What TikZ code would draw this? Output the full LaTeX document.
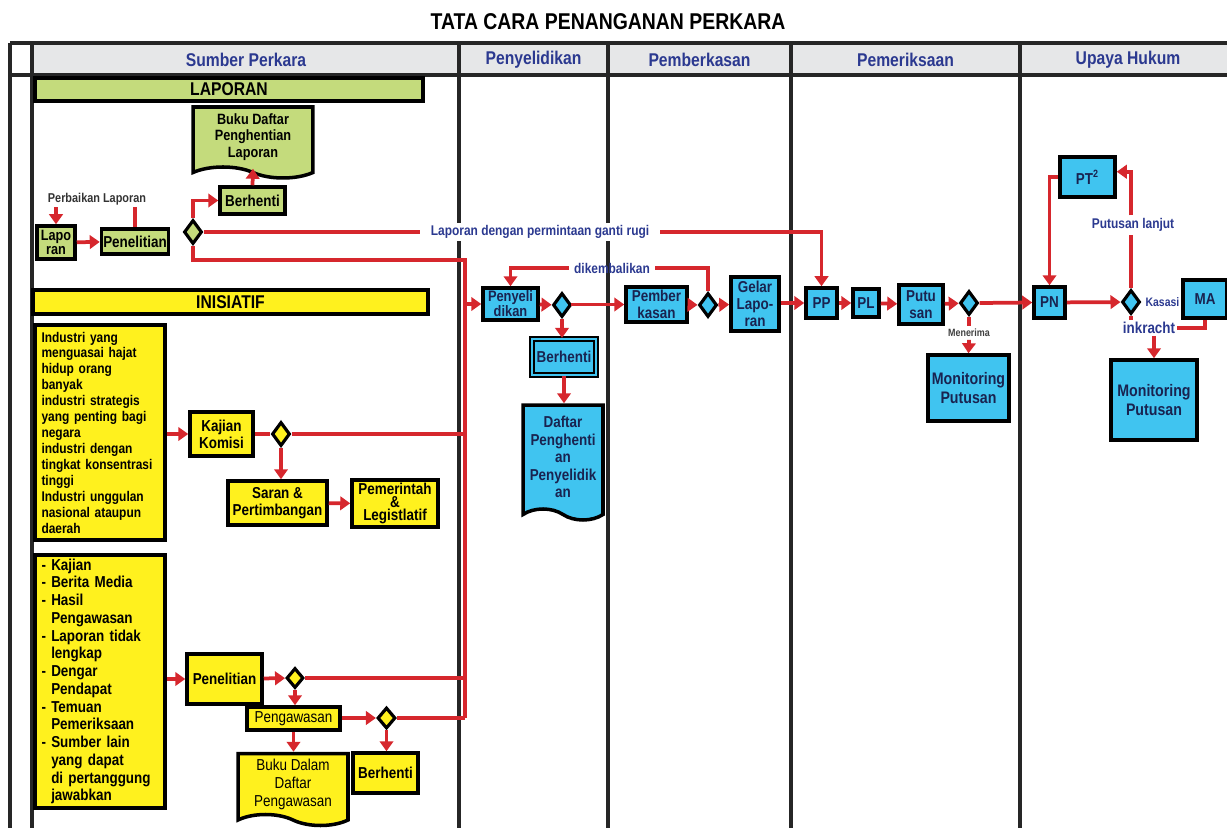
\documentclass[tikz,border=0pt]{standalone}
\usepackage{fontspec}
\setmainfont{Liberation Sans}[FakeStretch=0.85]
\usepackage{tikz}
\usetikzlibrary{positioning, arrows.meta}
\usetikzlibrary{shapes.geometric, shapes.symbols}
\usepackage{xcolor}
\hyphenpenalty=10000

\definecolor{merah}{RGB}{214,39,45}
\definecolor{biru}{RGB}{64,196,240}
\definecolor{hijau}{RGB}{196,219,124}
\definecolor{kuning}{RGB}{255,241,30}
\definecolor{abu}{RGB}{230,231,232}
\definecolor{teksbiru}{RGB}{43,57,144}
\definecolor{tekstua}{RGB}{25,35,80}

\tikzset{
	kotak/.style={draw=black, line width=2pt, inner sep=1pt, align=center, font=\fontsize{9}{9.8}\selectfont\bfseries},
	ukuran/.style 2 args={minimum width=#1cm, minimum height=#2cm},
	hijaukotak/.style={kotak, fill=hijau},
	kuningkotak/.style={kotak, fill=kuning},
	birukotak/.style={kotak, fill=biru, text=tekstua},
	belah/.style={diamond, draw=black, line width=1.8pt, inner sep=0pt, minimum width=0.36cm, minimum height=0.48cm},
	dokumen/.style={kotak, tape, tape bend top=none, tape bend bottom=out and in, tape bend height=0.22cm},
	pita/.style={kotak, font=\fontsize{10.5}{12}\selectfont\bfseries},
	garis/.style={draw=merah, line width=0.075cm},
	panah/.style={garis, -{Triangle[length=0.2cm, width=0.27cm]}},
	ket/.style={text=teksbiru, inner sep=1.5pt, font=\fontsize{8}{9}\selectfont\bfseries},
	lajur/.style={line width=0.07cm, black!85},
	judulajur/.style={text=teksbiru, font=\fontsize{10.5}{12}\selectfont\bfseries},
}

\begin{document}
\begin{tikzpicture}[x=0.02cm, y=-0.02cm]
			\useasboundingbox (0,0) rectangle (1227,828);
			\clip (0,0) rectangle (1227,828);
			% Judul
			\node[font=\fontsize{13}{15}\selectfont\bfseries] (judul) at (608,22) {TATA CARA PENANGANAN PERKARA};
			% Lajur
			\fill[abu] (32,43) rectangle (1240,75);
			\draw[lajur] (10,43) -- (1240,43) (10,75) -- (1240,75);
			\foreach \x in {10, 32, 459, 608, 791, 1020}
			\draw[lajur] (\x,43) -- (\x,840);
			\node[judulajur] (hSumber) at (246,60) {Sumber Perkara};
			\node[judulajur] (hPenyelidikan) at (533.5,60) {Penyelidikan};
			\node[judulajur] (hPemberkasan) at (699.5,60) {Pemberkasan};
			\node[judulajur] (hPemeriksaan) at (905.5,60) {Pemeriksaan};
			\node[judulajur] (hUpaya) at (1128,60) {Upaya Hukum};
			% Laporan
			\node[pita, fill=hijau, ukuran={7.76}{0.46}] (barLap) at (229,89.5) {LAPORAN};
			\node[dokumen, fill=hijau, ukuran={2.4}{1.42}, font=\fontsize{8.5}{9.3}\selectfont\bfseries] (bukuLap) at (253,137) {Buku Daftar\\Penghentian\\Laporan};
			\node[hijaukotak, ukuran={1.3}{0.54}] (berLap) at (252.5,200.5) {Berhenti};
			\node[hijaukotak, ukuran={0.76}{0.66}, font=\fontsize{8.5}{8}\selectfont\bfseries] (lapo) at (56,242.5) {Lapo\\ran};
			\node[hijaukotak, ukuran={1.32}{0.5}] (penLap) at (135,241.5) {Penelitian};
			\node[belah, fill=hijau] (dLap) at (193,232) {};
			\node[font=\fontsize{7.3}{8}\selectfont\bfseries, text=black!80, inner sep=1pt] (perbaikan) at (97,199) {Perbaikan Laporan};
			\node[ket, fill=white, inner xsep=6pt] (ganti) at (540,232) {Laporan dengan permintaan ganti rugi};
			% Inisiatif
			\node[pita, fill=kuning, ukuran={7.9}{0.48}] (barIni) at (230.5,302) {INISIATIF};
			\node[kuningkotak, ukuran={2.6}{4.3}, text width=2.34cm, align=left, inner xsep=0.13cm, font=\fontsize{8}{9.06}\selectfont\bfseries] (industri) at (100,432.5) {Industri yang\\menguasai hajat\\hidup orang\\banyak\\industri strategis\\yang penting bagi\\negara\\industri dengan\\tingkat konsentrasi\\tinggi\\Industri unggulan\\nasional ataupun\\daerah};
			\node[kuningkotak, ukuran={1.26}{0.88}] (kajian) at (221.5,434) {Kajian\\Komisi};
			\node[belah, fill=kuning] (dKaj) at (281,434) {};
			\node[kuningkotak, ukuran={1.98}{0.88}] (saran) at (277.5,503) {Saran \&\\Pertimbangan};
			\node[kuningkotak, ukuran={1.72}{0.94}, font=\fontsize{9}{7.6}\selectfont\bfseries] (pemerintah) at (395,503.5) {Pemerintah\\\&\\Legistlatif};
			\node[kuningkotak, ukuran={2.6}{5.06}, text width=2.34cm, align=left, inner xsep=0.13cm, font=\fontsize{9}{10.1}\selectfont\bfseries] (sumber) at (100,681.5) {- Kajian\\- Berita Media\\- Hasil\\\phantom{- }Pengawasan\\- Laporan tidak\\\phantom{- }lengkap\\- Dengar\\\phantom{- }Pendapat\\- Temuan\\\phantom{- }Pemeriksaan\\- Sumber lain\\\phantom{- }yang dapat\\\phantom{- }di pertanggung\\\phantom{- }jawabkan};
			\node[kuningkotak, ukuran={1.5}{1.0}] (penIni) at (224.5,679) {Penelitian};
			\node[belah, fill=kuning, minimum width=0.34cm, minimum height=0.4cm] (dPen) at (295,678) {};
			\node[kuningkotak, ukuran={1.86}{0.46}, font=\fontsize{9}{10}\selectfont] (pengawasan) at (293.5,718.5) {Pengawasan};
			\node[belah, fill=kuning, minimum width=0.36cm, minimum height=0.42cm] (dPeng) at (386.5,718) {};
			\node[kuningkotak, ukuran={1.3}{0.8}] (berPeng) at (385.5,773) {Berhenti};
			\node[dokumen, fill=kuning, ukuran={2.2}{1.44}, font=\fontsize{9}{10.2}\selectfont] (bukuPeng) at (293,784) {Buku Dalam\\Daftar\\Pengawasan};
			% Penyelidikan
			\node[birukotak, ukuran={1.1}{0.64}, font=\fontsize{8.6}{8.6}\selectfont\bfseries] (penyeli) at (510.5,304) {Penyeli\\dikan};
			\node[belah, fill=biru] (dPeny) at (562,305) {};
			\node[birukotak, ukuran={1.28}{0.72}, double=biru, double distance=0.9pt, line width=1.3pt] (berPeny) at (564,357) {Berhenti};
			\node[dokumen, fill=biru, text=tekstua, ukuran={1.6}{2.3}, font=\fontsize{9}{9.9}\selectfont\bfseries] (daftarPeny) at (563,457) {Daftar\\Penghenti\\an\\Penyelidik\\an};
			\node[ket, inner xsep=3pt] (kembali) at (612,268) {dikembalikan};
			% Pemberkasan
			\node[birukotak, ukuran={1.22}{0.7}] (pember) at (656.5,304.5) {Pember\\kasan};
			\node[belah, fill=biru] (dPem) at (708,305) {};
			\node[birukotak, ukuran={0.96}{1.08}] (gelar) at (755,304) {Gelar\\Lapo-\\ran};
			% Pemeriksaan
			\node[birukotak, ukuran={0.62}{0.6}] (pp) at (821.5,303) {PP};
			\node[birukotak, ukuran={0.52}{0.56}] (pl) at (866,303) {PL};
			\node[birukotak, ukuran={0.88}{0.78}] (putusan) at (921,304.5) {Putu\\san};
			\node[belah, fill=biru] (dPut) at (969,303) {};
			\node[font=\fontsize{6}{7}\selectfont\bfseries, text=black!75, inner sep=1.5pt] (menerima) at (969,333) {Menerima};
			\node[birukotak, ukuran={1.62}{1.32}, font=\fontsize{9.5}{10.8}\selectfont\bfseries] (mon1) at (968.5,388) {Monitoring\\Putusan};
			% Upaya Hukum
			\node[birukotak, ukuran={0.62}{0.62}] (pn) at (1049.5,302.5) {PN};
			\node[belah, fill=biru] (dPN) at (1131,302) {};
			\node[birukotak, ukuran={1.1}{0.8}] (pt2) at (1087.5,177) {PT\textsuperscript{2}};
			\node[birukotak, ukuran={0.88}{0.76}] (ma) at (1205,299) {MA};
			\node[birukotak, ukuran={1.72}{1.6}, font=\fontsize{9.5}{10.4}\selectfont\bfseries] (mon2) at (1154,400) {Monitoring\\Putusan};
			\node[ket, font=\fontsize{7}{8}\selectfont\bfseries, right=0.02cm of dPN] (kasasi) {Kasasi};
			\node[ket, fill=white] (lanjut) at (1133,225) {Putusan lanjut};
			\node[ket, font=\fontsize{9}{10}\selectfont\bfseries, inner sep=1pt] (inkracht) at (1149,328) {inkracht};
			% Alur laporan
			\draw[panah] (perbaikan.south -| lapo.north) -- (lapo.north);
			\draw[garis] (penLap.north) -- (penLap.north |- perbaikan.south);
			\draw[panah] (lapo) -- (penLap);
			\draw[panah] (dLap.north) |- (berLap.west);
			\draw[panah] (berLap.north) -- (bukuLap.south);
			\draw[garis] (dLap.east) -- (ganti.west);
			\draw[panah] (ganti.east) -| (pp.north);
			% Jalur utama ke penyelidikan
			\coordinate (tA) at (465,260);
			\coordinate (tB) at (465,718);
			\draw[garis] (dLap.south) |- (tA) -- (tB);
			\draw[panah] (tA |- penyeli.west) -- (penyeli.west);
			% Alur inisiatif
			\draw[panah] (industri.east |- kajian.west) -- (kajian.west);
			\draw[garis] (kajian) -- (dKaj);
			\draw[garis] (dKaj.east) -- (tA |- dKaj.east);
			\draw[panah] (dKaj.south) -- (dKaj.south |- saran.north);
			\draw[panah] (saran) -- (pemerintah);
			\draw[panah] (sumber.east |- penIni.west) -- (penIni.west);
			\draw[panah] (penIni) -- (dPen);
			\draw[garis] (dPen.east) -- (tA |- dPen.east);
			\draw[panah] (dPen.south) -- (dPen.south |- pengawasan.north);
			\draw[panah] (pengawasan.east |- dPeng.west) -- (dPeng.west);
			\draw[garis] (dPeng.east) -- (tB);
			\draw[panah] (dPeng.south) -- (dPeng.south |- berPeng.north);
			\draw[panah] (pengawasan.south) -- (pengawasan.south |- bukuPeng.north);
			% Penyelidikan dan pemberkasan
			\draw[panah] (penyeli) -- (dPeny);
			\draw[panah] (dPeny.east) -- (dPeny.east |- pember.west) -- (pember.west);
			\draw[panah] (dPeny.south) -- (dPeny.south |- berPeny.north);
			\draw[panah] (berPeny.south) -- (berPeny.south |- daftarPeny.north);
			\draw[panah] (pember) -- (dPem);
			\draw[panah] (dPem) -- (gelar);
			\draw[garis] (dPem.north) |- (kembali.east);
			\draw[panah] (kembali.west) -| (penyeli.north);
			% Pemeriksaan
			\draw[panah] (gelar.east |- pp.west) -- (pp.west);
			\draw[panah] (pp) -- (pl);
			\draw[panah] (pl) -- (putusan);
			\draw[panah] (putusan) -- (dPut);
			\draw[garis] (dPut.south) -- (menerima.north);
			\draw[panah] (menerima.south) -- (mon1.north);
			\draw[panah] (dPut.east) -- (pn.west);
			% Upaya hukum
			\draw[panah] (pn) -- (dPN);
			\draw[garis] (dPN.north) -- (dPN.north |- lanjut.south);
			\draw[panah] (dPN.north |- lanjut.north) |- ([yshift=3pt]pt2.east);
			\draw[panah] (pt2.west) -| (pn.north);
			\draw[garis] (dPN.south) -- (dPN.south |- inkracht.north);
			\draw[garis] (ma.south) |- (inkracht.east);
			\draw[panah] (inkracht.south -| mon2.north) -- (mon2.north);
\end{tikzpicture}
\end{document}
